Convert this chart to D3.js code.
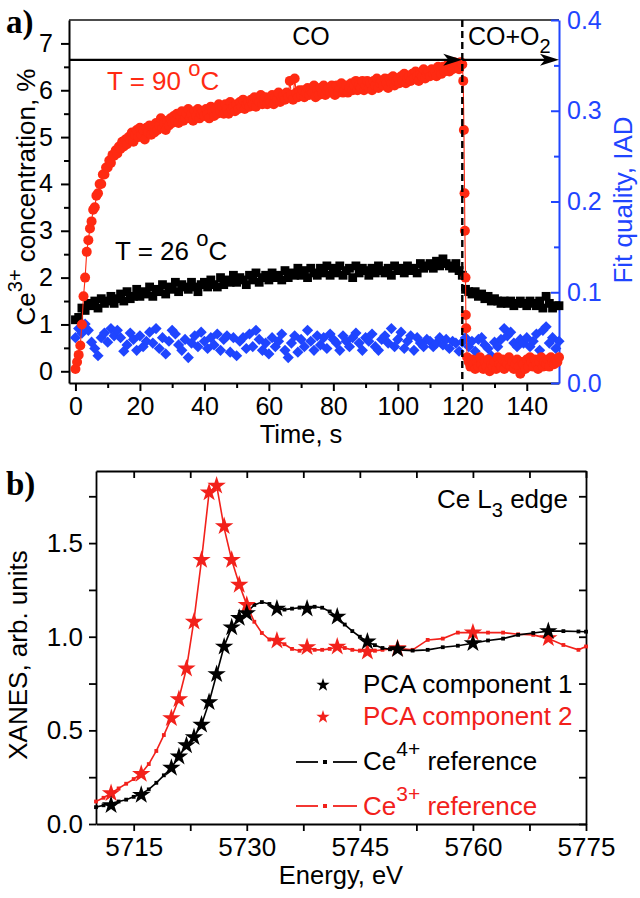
<!DOCTYPE html>
<html><head><meta charset="utf-8">
<script src="https://cdn.jsdelivr.net/npm/d3@7"></script>
<style>body{margin:0;background:#fff;} svg{display:block;}</style>
</head><body><svg id="c" width="640" height="898"></svg>
<script>
// ---------------- DATA: panel a) ----------------
// Ce3+ concentration (%) at T = 90 °C, sampled every 0.5 s from t = 0 to 120 s
const red90Step = 0.5;
const red90 = [
 0.05,0.2,0.35,0.55,1.0,1.6,2.0,2.55,2.8,3.05,
 3.2,3.45,3.5,3.75,3.8,4.0,4.0,4.2,4.2,4.35,
 4.35,4.5,4.45,4.62,4.6,4.72,4.65,4.8,4.75,4.9,
 4.8,4.95,4.85,5.0,4.95,5.1,4.9,5.05,5.15,5.0,
 5.2,5.05,5.15,4.95,5.2,5.1,5.25,5.05,5.2,5.1,
 5.3,5.15,5.25,5.4,5.2,5.3,5.15,5.35,5.25,5.4,
 5.3,5.45,5.35,5.5,5.3,5.45,5.55,5.35,5.4,5.5,
 5.6,5.4,5.5,5.35,5.55,5.45,5.6,5.4,5.5,5.55,
 5.45,5.6,5.5,5.4,5.65,5.55,5.45,5.6,5.5,5.7,
 5.55,5.65,5.5,5.7,5.6,5.5,5.75,5.6,5.65,5.55,
 5.7,5.6,5.75,5.65,5.8,5.6,5.7,5.75,5.65,5.8,
 5.7,5.85,5.65,5.8,5.75,5.9,5.7,5.8,5.85,5.7,
 5.8,5.75,5.9,5.7,5.85,5.8,5.95,5.75,5.85,5.9,
 5.8,5.95,5.85,6.2,5.9,5.8,6.25,5.95,5.85,6.0,
 5.9,6.0,5.85,5.95,6.05,5.9,6.0,5.95,6.1,5.85,
 6.0,5.9,6.05,5.95,6.1,5.9,6.0,6.05,5.95,6.1,
 6.0,5.9,6.1,5.95,6.05,6.15,5.95,6.0,6.1,5.95,
 6.05,6.15,6.0,6.1,6.2,6.0,6.1,6.05,6.2,6.0,
 6.1,6.2,6.05,6.15,6.0,6.2,6.1,6.25,6.05,6.15,
 6.2,6.1,6.25,6.15,6.05,6.25,6.15,6.3,6.1,6.2,
 6.25,6.15,6.3,6.2,6.35,6.15,6.25,6.3,6.2,6.35,
 6.25,6.4,6.3,6.2,6.35,6.3,6.45,6.25,6.35,6.4,
 6.3,6.45,6.35,6.4,6.3,6.5,6.4,6.35,6.5,6.4,
 6.45,6.55,6.4,6.5,6.45,6.6,6.5,6.55,6.45,6.6,
 6.55
];
// fast drop after switching to CO+O2
const red90DropTime = [120.3,120.5,120.7,120.8,121.0,121.1,121.2];
const red90Drop     = [6.2,5.15,3.8,3.0,2.0,1.2,0.92];
// after the drop, every 0.5 s from 121.5 s to 150 s
const red90AfterStart = 121.5;
const red90After = [
 0.3,0.2,0.1,0.25,0.15,0.05,0.2,0.1,0.3,0.15,
 0.05,0.2,0.1,0.25,0.0,0.15,0.1,0.2,0.05,0.3,
 0.15,0.1,0.25,0.05,0.2,0.15,0.3,0.1,0.2,0.05,
 0.15,0.25,0.1,-0.05,0.2,0.15,0.05,0.25,0.1,0.3,
 0.2,0.1,0.25,0.15,0.05,0.2,0.3,0.1,0.2,0.15,
 0.25,0.1,0.3,0.2,0.15,0.25,0.2,0.3
];
// Ce3+ concentration (%) at T = 26 °C, every 1 s from 0 to 150 s
const black26Step = 1;
const black26 = [
 1.1,1.15,1.35,1.3,1.45,1.4,1.5,1.35,1.55,1.45,
 1.5,1.6,1.45,1.55,1.65,1.5,1.7,1.55,1.6,1.75,
 1.6,1.7,1.65,1.8,1.6,1.75,1.7,1.85,1.65,1.8,
 1.75,1.9,1.7,1.85,1.8,1.75,1.9,1.8,1.7,1.85,
 1.9,1.8,1.95,1.85,1.8,2.0,1.85,1.95,1.9,2.05,
 1.9,2.0,1.95,1.85,2.05,1.95,2.1,1.9,2.0,2.05,
 1.95,2.1,2.0,2.05,1.95,2.15,2.0,2.1,2.05,2.2,
 2.05,2.15,2.0,2.2,2.1,2.05,2.2,2.1,2.25,2.05,
 2.2,2.1,2.25,2.05,2.15,2.2,2.0,2.25,2.1,2.2,
 2.15,2.05,2.2,2.1,2.25,2.15,2.1,2.2,2.05,2.25,
 2.15,2.2,2.1,2.25,2.15,2.2,2.1,2.3,2.2,2.25,
 2.3,2.2,2.35,2.25,2.4,2.3,2.25,2.2,2.3,2.15,
 2.05,1.75,1.7,1.65,1.7,1.6,1.65,1.55,1.6,1.5,
 1.55,1.5,1.45,1.5,1.45,1.5,1.4,1.45,1.5,1.45,
 1.4,1.5,1.45,1.4,1.5,1.35,1.6,1.45,1.35,1.4,
 1.4
];
// Fit quality (IAD), every 1 s from 0 to 150 s
const iadStep = 1;
const iad = [
 0.05,0.06,0.055,0.065,0.058,0.045,0.038,0.03,0.05,0.055,
 0.045,0.06,0.052,0.058,0.05,0.035,0.042,0.055,0.048,0.036,
 0.052,0.04,0.046,0.056,0.044,0.06,0.038,0.05,0.032,0.046,
 0.058,0.054,0.042,0.036,0.048,0.028,0.044,0.052,0.04,0.056,
 0.046,0.038,0.05,0.042,0.054,0.036,0.048,0.052,0.034,0.05,
 0.03,0.046,0.05,0.038,0.054,0.04,0.058,0.048,0.036,0.044,
 0.032,0.05,0.04,0.046,0.054,0.036,0.028,0.044,0.052,0.034,
 0.048,0.04,0.058,0.046,0.036,0.052,0.042,0.05,0.038,0.054,
 0.048,0.044,0.036,0.052,0.046,0.04,0.05,0.055,0.044,0.036,
 0.05,0.046,0.054,0.04,0.036,0.048,0.052,0.044,0.06,0.04,
 0.048,0.056,0.038,0.046,0.052,0.036,0.05,0.044,0.04,0.048,
 0.046,0.04,0.044,0.05,0.042,0.048,0.038,0.046,0.044,0.035,
 0.045,0.05,0.04,0.046,0.035,0.048,0.05,0.042,0.038,0.03,
 0.045,0.04,0.048,0.06,0.052,0.056,0.044,0.04,0.048,0.044,
 0.05,0.04,0.046,0.054,0.036,0.058,0.062,0.044,0.05,0.038,
 0.046
];
const timeTicks  = [0,20,40,60,80,100,120,140];
const timeMinor  = [10,30,50,70,90,110,130];
const concTicks  = [0,1,2,3,4,5,6,7];
const concMinor  = [0.5,1.5,2.5,3.5,4.5,5.5,6.5];
const iadTicks   = [0.0,0.1,0.2,0.3,0.4];
const iadMinor   = [0.05,0.15,0.25,0.35];
const switchTime = 120;
const arrowLevel = 6.65;

// ---------------- DATA: panel b) ----------------
const refEnergy = [
 5710,5711,5712,5713,5714,5715,5716,5717,5718,5719,
 5720,5721,5722,5723,5724,5725,5726,5727,5728,5729,
 5730,5731,5732,5733,5734,5735,5736,5737,5738,5739,
 5740,5741,5742,5743,5744,5745,5746,5747,5748,5749,
 5750,5752,5754,5756,5758,5760,5762,5764,5766,5768,5770,5772,5774,5775
];
const ce4Ref = [
 0.09,0.10,0.11,0.12,0.13,0.145,0.16,0.185,0.22,0.26,
 0.30,0.36,0.42,0.465,0.53,0.65,0.80,0.95,1.05,1.10,
 1.13,1.17,1.185,1.175,1.15,1.145,1.15,1.155,1.16,1.16,
 1.155,1.135,1.105,1.065,1.03,1.0,0.974,0.955,0.94,0.933,
 0.93,0.926,0.93,0.944,0.952,0.965,0.98,0.99,1.01,1.02,1.03,1.03,1.028,1.027
];
const ce3Ref = [
 0.12,0.14,0.165,0.19,0.215,0.24,0.27,0.32,0.39,0.475,
 0.565,0.67,0.83,1.09,1.41,1.77,1.81,1.58,1.41,1.28,
 1.17,1.08,1.02,0.985,0.98,0.96,0.935,0.925,0.944,0.93,
 0.93,0.935,0.946,0.94,0.93,0.925,0.92,0.925,0.93,0.935,
 0.938,0.93,0.983,0.99,1.022,1.022,1.022,1.022,1.013,1.01,0.99,0.956,0.93,0.948
];
const pcaEnergy = [5712,5716,5720,5721,5722,5723,5724,5725,5726,5727,5728,5729,5730,5734,5738,5742,5746,5750,5760,5770];
const pca1 = [0.10,0.155,0.30,0.36,0.42,0.463,0.53,0.65,0.80,0.947,1.05,1.10,1.125,1.15,1.15,1.107,0.974,0.933,0.965,1.03];
const pca2 = [0.164,0.267,0.565,0.666,0.83,1.08,1.41,1.77,1.806,1.59,1.41,1.277,1.17,0.979,0.944,0.947,0.92,0.938,1.022,0.992];
const energyTicks = [5715,5730,5745,5760,5775];
const energyMinor = [5722.5,5737.5,5752.5,5767.5];
const xanesTicks  = [0,0.5,1.0,1.5];
const xanesMinor  = [0.25,0.75,1.25,1.75];
const legendItems = ["PCA component 1","PCA component 2","reference","reference"];

// ---------------- DRAWING ----------------
const FONT = '"Liberation Sans", Arial, Helvetica, sans-serif';
const RED = "#ff2a12", BLUE = "#1f45ff", RED2 = "#f2211b", BLK = "#000";
const svg = d3.select("#c");

function styleAxis(g, color, fs, sw){
  g.attr("font-family", FONT).attr("font-size", fs);
  g.selectAll("path.domain").attr("stroke", color).attr("stroke-width", sw || 2);
  g.selectAll(".tick line").attr("stroke", color).attr("stroke-width", sw || 2);
  g.selectAll(".tick text").attr("fill", color);
}
function minor(g){ g.select("path.domain").remove(); g.selectAll(".tick text").remove(); }

// ===== Panel a =====
const xT = d3.scaleLinear().domain([-2,150]).range([69,559]);
const yL = d3.scaleLinear().domain([-0.25,7.5]).range([383,20]);
const yR = d3.scaleLinear().domain([0,0.4]).range([383,20]);

svg.append("line").attr("x1",xT.range()[0]).attr("x2",xT.range()[1]).attr("y1",20).attr("y2",20)
  .attr("stroke","#111").attr("stroke-width",1.6);

const gxb = svg.append("g").attr("transform","translate(0,383)")
  .call(d3.axisBottom(xT).tickValues(timeTicks).tickSize(8).tickPadding(6).tickSizeOuter(0));
styleAxis(gxb, BLK, 25);
const gxbm = svg.append("g").attr("transform","translate(0,383)")
  .call(d3.axisBottom(xT).tickValues(timeMinor).tickSize(5).tickFormat(""));
minor(gxbm); styleAxis(gxbm, BLK, 25);

const gyl = svg.append("g").attr("transform","translate(69,0)")
  .call(d3.axisLeft(yL).tickValues(concTicks).tickSize(8).tickPadding(8).tickSizeOuter(0));
styleAxis(gyl, BLK, 25);
const gylm = svg.append("g").attr("transform","translate(69,0)")
  .call(d3.axisLeft(yL).tickValues(concMinor).tickSize(5).tickFormat(""));
minor(gylm); styleAxis(gylm, BLK, 25);

const gyr = svg.append("g").attr("transform","translate(559,0)")
  .call(d3.axisRight(yR).tickValues(iadTicks).tickSize(-8).tickPadding(8).tickSizeOuter(0).tickFormat(d3.format(".1f")));
styleAxis(gyr, BLUE, 25);
const gyrm = svg.append("g").attr("transform","translate(559,0)")
  .call(d3.axisRight(yR).tickValues(iadMinor).tickSize(-5).tickFormat(""));
minor(gyrm); styleAxis(gyrm, BLUE, 25);

const blackPts = black26.map((v,i)=>({t:i*black26Step, v}));
const iadPts = iad.map((v,i)=>({t:i*iadStep, v}));
const redPts = red90.map((v,i)=>({t:i*red90Step, v}))
  .concat(red90DropTime.map((t,i)=>({t, v:red90Drop[i]})))
  .concat(red90After.map((v,i)=>({t:red90AfterStart+i*red90Step, v})));

const plotA = svg.append("g");
plotA.selectAll("rect.b").data(blackPts).join("rect").attr("class","b")
  .attr("x",d=>xT(d.t)-4.4).attr("y",d=>yL(d.v)-4.4).attr("width",8.8).attr("height",8.8).attr("fill",BLK);
plotA.selectAll("path.iad").data(iadPts).join("path").attr("class","iad")
  .attr("transform",d=>`translate(${xT(d.t)},${yR(d.v)})`)
  .attr("d","M0,-5.6L5.6,0L0,5.6L-5.6,0Z").attr("fill",BLUE);
plotA.append("path").datum(redPts)
  .attr("d", d3.line().x(d=>xT(d.t)).y(d=>yL(d.v)))
  .attr("fill","none").attr("stroke",RED).attr("stroke-width",1.1);
plotA.selectAll("circle.r").data(redPts).join("circle").attr("class","r")
  .attr("cx",d=>xT(d.t)).attr("cy",d=>yL(d.v)).attr("r",5).attr("fill",RED);

svg.append("line").attr("x1",xT(switchTime)).attr("x2",xT(switchTime)).attr("y1",20).attr("y2",383)
  .attr("stroke",BLK).attr("stroke-width",2.4).attr("stroke-dasharray","7,4");

function arrow(x1,x2,y){
  svg.append("line").attr("x1",x1).attr("x2",x2-8).attr("y1",y).attr("y2",y).attr("stroke",BLK).attr("stroke-width",2.2);
  svg.append("path").attr("d",`M${x2},${y}L${x2-19},${y-6}L${x2-14},${y}L${x2-19},${y+6}Z`).attr("fill",BLK);
}
arrow(xT(-2), xT(switchTime), yL(arrowLevel));
arrow(xT(switchTime), xT(150), yL(arrowLevel));

function txt(x,y,color,size){ return svg.append("text").attr("x",x).attr("y",y).attr("fill",color)
  .attr("font-family",FONT).attr("font-size",size); }
txt(311,45,BLK,25).attr("text-anchor","middle").text("CO");
{ const t = txt(468,45,BLK,25); t.append("tspan").text("CO+O");
  t.append("tspan").attr("font-size",20).attr("dy",8).text("2"); }
{ const t = txt(107,90,RED,26); t.append("tspan").text("T = 90 ");
  t.append("tspan").attr("font-size",22).attr("dy",-14).text("o");
  t.append("tspan").attr("dy",14).text("C"); }
{ const t = txt(115,260,BLK,26); t.append("tspan").text("T = 26 ");
  t.append("tspan").attr("font-size",22).attr("dy",-14).text("o");
  t.append("tspan").attr("dy",14).text("C"); }

txt(301,443,BLK,25.5).attr("text-anchor","middle").text("Time, s");
{ const t = svg.append("text").attr("transform","translate(35,197) rotate(-90)").attr("text-anchor","middle")
    .attr("font-family",FONT).attr("font-size",26).attr("fill",BLK);
  t.append("tspan").text("Ce");
  t.append("tspan").attr("font-size",20).attr("dy",-13).text("3+");
  t.append("tspan").attr("dy",13).text(" concentration, %"); }
svg.append("text").attr("transform","translate(632,200) rotate(-90)").attr("text-anchor","middle")
  .attr("font-family",FONT).attr("font-size",26).attr("fill",BLUE).text("Fit quality, IAD");

svg.append("text").attr("x",6).attr("y",33).attr("font-family",'"Liberation Serif","Times New Roman",serif')
  .attr("font-weight","bold").attr("font-size",33).attr("fill",BLK).text("a)");

// ===== Panel b =====
const xB = d3.scaleLinear().domain([5710,5775]).range([96,586]);
const yB = d3.scaleLinear().domain([0,1.885]).range([824,471]);

const gbx = svg.append("g").attr("transform","translate(0,824)")
  .call(d3.axisBottom(xB).tickValues(energyTicks).tickSize(7).tickPadding(7).tickSizeOuter(0).tickFormat(d3.format("d")));
styleAxis(gbx, BLK, 26, 1.8);
const gbxm = svg.append("g").attr("transform","translate(0,824)")
  .call(d3.axisBottom(xB).tickValues(energyMinor).tickSize(7).tickFormat(""));
minor(gbxm); styleAxis(gbxm, BLK, 26, 1.8);
const gbt = svg.append("g").attr("transform","translate(0,471)")
  .call(d3.axisTop(xB).tickValues(energyTicks.concat(energyMinor)).tickSize(-7).tickFormat("").tickSizeOuter(0));
styleAxis(gbt, BLK, 26, 1.8);
const gby = svg.append("g").attr("transform","translate(96,0)")
  .call(d3.axisLeft(yB).tickValues(xanesTicks).tickSize(7).tickPadding(6).tickSizeOuter(0).tickFormat(d3.format(".1f")));
styleAxis(gby, BLK, 26, 1.8);
const gbym = svg.append("g").attr("transform","translate(96,0)")
  .call(d3.axisLeft(yB).tickValues(xanesMinor).tickSize(7).tickFormat(""));
minor(gbym); styleAxis(gbym, BLK, 26, 1.8);
const gbr = svg.append("g").attr("transform","translate(586,0)")
  .call(d3.axisRight(yB).tickValues(xanesTicks.concat(xanesMinor)).tickSize(-7).tickFormat("").tickSizeOuter(0));
styleAxis(gbr, BLK, 26, 1.8);

const plotB = svg.append("g");
function refSeries(vals, color){
  const pts = refEnergy.map((e,i)=>({e, v:vals[i]}));
  plotB.append("path").datum(pts).attr("d", d3.line().x(d=>xB(d.e)).y(d=>yB(d.v)))
    .attr("fill","none").attr("stroke",color).attr("stroke-width",1.6);
  plotB.selectAll(null).data(pts).join("rect")
    .attr("x",d=>xB(d.e)-1.9).attr("y",d=>yB(d.v)-1.9).attr("width",3.8).attr("height",3.8).attr("fill",color);
}
refSeries(ce3Ref, RED2);
refSeries(ce4Ref, BLK);
const star = d3.symbol(d3.symbolStar, 105);
function starSeries(vals, color){
  plotB.selectAll(null).data(pcaEnergy.map((e,i)=>({e, v:vals[i]}))).join("path")
    .attr("transform",d=>`translate(${xB(d.e)},${yB(d.v)})`).attr("d",star()).attr("fill",color);
}
starSeries(pca2, RED2);
starSeries(pca1, BLK);

{ const t = txt(568,508,BLK,26).attr("text-anchor","end");
  t.append("tspan").text("Ce L");
  t.append("tspan").attr("font-size",20).attr("dy",9).text("3");
  t.append("tspan").attr("dy",-9).text(" edge"); }

const smallStar = d3.symbol(d3.symbolStar, 55);
svg.append("path").attr("transform","translate(323,685)").attr("d",smallStar()).attr("fill",BLK);
txt(363,693,BLK,26).text(legendItems[0]);
svg.append("path").attr("transform","translate(323,717)").attr("d",smallStar()).attr("fill",RED2);
txt(363,725,RED2,26).text(legendItems[1]);
function legLine(y,color){
  svg.append("line").attr("x1",296).attr("x2",318).attr("y1",y).attr("y2",y).attr("stroke",color).attr("stroke-width",1.8);
  svg.append("line").attr("x1",333).attr("x2",357).attr("y1",y).attr("y2",y).attr("stroke",color).attr("stroke-width",1.8);
  svg.append("rect").attr("x",323).attr("y",y-2).attr("width",4).attr("height",4).attr("fill",color);
}
legLine(762,BLK);
{ const t = txt(363,770,BLK,26); t.append("tspan").text("Ce");
  t.append("tspan").attr("font-size",21).attr("dy",-14).text("4+");
  t.append("tspan").attr("dy",14).text(" "+legendItems[2]); }
legLine(806,RED2);
{ const t = txt(363,815,RED2,26); t.append("tspan").text("Ce");
  t.append("tspan").attr("font-size",21).attr("dy",-14).text("3+");
  t.append("tspan").attr("dy",14).text(" "+legendItems[3]); }

txt(341,884,BLK,25.5).attr("text-anchor","middle").text("Energy, eV");
svg.append("text").attr("transform","translate(27,655) rotate(-90)").attr("text-anchor","middle")
  .attr("font-family",FONT).attr("font-size",26).attr("fill",BLK).text("XANES, arb. units");

svg.append("text").attr("x",6).attr("y",495).attr("font-family",'"Liberation Serif","Times New Roman",serif')
  .attr("font-weight","bold").attr("font-size",33).attr("fill",BLK).text("b)");
</script>
</body></html>
